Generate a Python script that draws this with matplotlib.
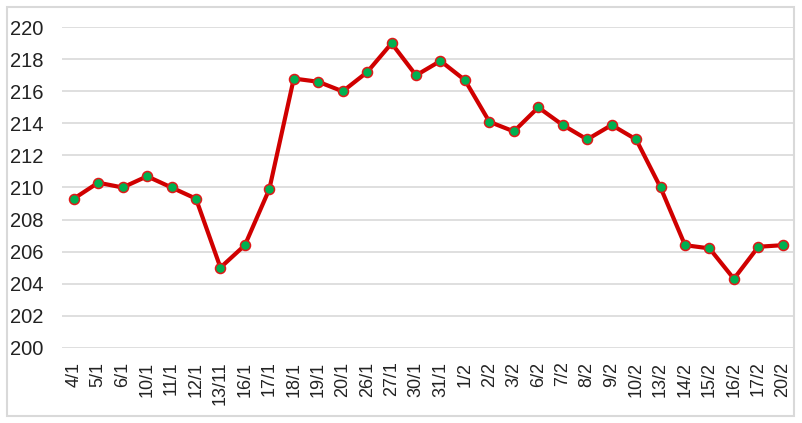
import matplotlib
matplotlib.use("Agg")
import matplotlib.pyplot as plt
from matplotlib.patches import Rectangle

# date labels (as printed on the chart) and values
dates = ["4/1", "5/1", "6/1", "10/1", "11/1", "12/1", "13/11", "16/1", "17/1", "18/1",
         "19/1", "20/1", "26/1", "27/1", "30/1", "31/1", "1/2", "2/2", "3/2", "6/2",
         "7/2", "8/2", "9/2", "10/2", "13/2", "14/2", "15/2", "16/2", "17/2", "20/2"]
values = [209.3, 210.3, 210.0, 210.7, 210.0, 209.3, 205.0, 206.4, 209.9, 216.8,
          216.6, 216.0, 217.2, 219.0, 217.0, 217.9, 216.7, 214.1, 213.5, 215.0,
          213.9, 213.0, 213.9, 213.0, 210.0, 206.4, 206.2, 204.3, 206.3, 206.4]
yticks = list(range(200, 221, 2))

plt.rcParams["font.family"] = ["Liberation Sans", "DejaVu Sans"]

fig = plt.figure(figsize=(8.02, 4.23), dpi=100)
ax = fig.add_axes([0.0767, 0.178, 0.9146, 0.7575])

# outer chart frame
fig.patches.append(Rectangle((0.0087, 0.0165), 0.981, 0.967, transform=fig.transFigure,
                             facecolor="none", edgecolor="#d9d9d9", lw=1.5))

x = range(len(dates))
ax.plot(x, values, color="#d00000", lw=3, marker="o", ms=7.2,
        markerfacecolor="#00b050", markeredgecolor="#e01818", markeredgewidth=1.1, zorder=3)

ax.set_xlim(-0.5, len(dates) - 0.5)
ax.set_ylim(200, 220)
ax.set_yticks(yticks)
ax.set_xticks(list(x))
ax.set_xticklabels(dates, rotation=90)
ax.grid(axis="y", color="#d9d9d9", lw=1.2)
ax.set_axisbelow(True)
for s in ax.spines.values():
    s.set_visible(False)
ax.tick_params(axis="both", length=0, labelsize=13, colors="#222222")
ax.tick_params(axis="y", pad=13, labelsize=14.5)
ax.tick_params(axis="x", pad=10)

fig.savefig("out.png", dpi=100)
